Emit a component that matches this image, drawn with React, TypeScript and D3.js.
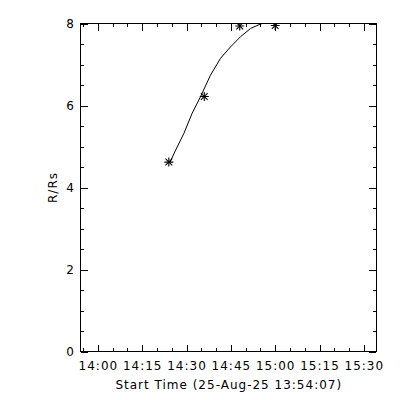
import React from "react";
import * as d3 from "d3";

// Measured heights (R/Rs) at observation times
const obsTimes = ["2025-08-25T14:24:00Z", "2025-08-25T14:36:00Z", "2025-08-25T14:48:00Z", "2025-08-25T15:00:00Z"];
const obsHeights = [4.62, 6.22, 7.94, 7.95];

// Fitted height-time curve
const fitTimes = [
  "2025-08-25T14:24:18Z", "2025-08-25T14:26:18Z", "2025-08-25T14:29:06Z", "2025-08-25T14:31:54Z",
  "2025-08-25T14:34:42Z", "2025-08-25T14:38:06Z", "2025-08-25T14:41:30Z", "2025-08-25T14:44:54Z",
  "2025-08-25T14:48:18Z", "2025-08-25T14:51:42Z", "2025-08-25T14:55:06Z", "2025-08-25T14:58:00Z",
  "2025-08-25T15:00:00Z",
];
const fitHeights = [4.6, 4.91, 5.32, 5.81, 6.21, 6.74, 7.15, 7.43, 7.68, 7.88, 7.99, 8.05, 8.07];

const xStart = "2025-08-25T13:54:07Z";
const xEnd = "2025-08-25T15:34:07Z";
const yTicks = [0, 2, 4, 6, 8];
const xLabel = "Start Time (25-Aug-25 13:54:07)";
const yLabel = "R/Rs";

export default function App() {
  const W = 400, H = 400;
  const left = 80.5, right = 376, top = 23.5, bottom = 351.5;
  const x = d3.scaleUtc().domain([new Date(xStart), new Date(xEnd)]).range([left, right]);
  const y = d3.scaleLinear().domain([0, 8]).range([bottom, top]);
  const majorX = d3.utcMinute.every(15)!.range(new Date(xStart), new Date(xEnd));
  const minorX = d3.utcMinute.every(5)!.range(new Date(xStart), new Date(xEnd));
  const minorY = d3.range(0, 8.01, 0.5);
  const fmt = d3.utcFormat("%H:%M");
  const line = d3.line<[string, number]>()
    .x((d) => x(new Date(d[0])))
    .y((d) => y(d[1]))
    .curve(d3.curveLinear);
  const fitData: [string, number][] = fitTimes.map((t, i) => [t, fitHeights[i]]);
  const font = "'DejaVu Sans', sans-serif";
  const r = 4.5;
  const Ma = 7, Mi = 3.5;
  const ls = 1;
  return (
    <div style={{ position: "absolute", left: 0, top: 0, width: W, height: H, background: "#fff" }}>
      <svg width={W} height={H} style={{ display: "block" }} fontFamily={font}>
        <rect x={0} y={0} width={W} height={H} fill="#fff" />
        <defs>
          <clipPath id="plotclip">
            <rect x={left} y={top} width={right - left} height={bottom - top} />
          </clipPath>
        </defs>
        <g stroke="#000" strokeWidth={1} fill="none" shapeRendering="crispEdges">
          {minorX.map((d, i) => {
            const xx = Math.round(x(d)) + 0.5;
            return (
              <g key={"mx" + i}>
                <line x1={xx} x2={xx} y1={bottom} y2={bottom - Mi} />
                <line x1={xx} x2={xx} y1={top} y2={top + Mi} />
              </g>
            );
          })}
          {majorX.map((d, i) => {
            const xx = Math.round(x(d)) + 0.5;
            return (
              <g key={"Mx" + i}>
                <line x1={xx} x2={xx} y1={bottom} y2={bottom - Ma} />
                <line x1={xx} x2={xx} y1={top} y2={top + Ma} />
              </g>
            );
          })}
          {minorY.map((v, i) => {
            const yy = Math.round(y(v)) + 0.5;
            return (
              <g key={"my" + i}>
                <line x1={left} x2={left + Mi} y1={yy} y2={yy} />
                <line x1={right} x2={right - Mi} y1={yy} y2={yy} />
              </g>
            );
          })}
          {yTicks.map((v, i) => {
            const yy = Math.round(y(v)) + 0.5;
            return (
              <g key={"My" + i}>
                <line x1={left} x2={left + Ma} y1={yy} y2={yy} />
                <line x1={right} x2={right - Ma} y1={yy} y2={yy} />
              </g>
            );
          })}
          <rect x={left} y={top} width={right - left} height={bottom - top} />
        </g>
        <g clipPath="url(#plotclip)">
          <path d={line(fitData) || ""} fill="none" stroke="#000" strokeWidth={1} />
          {obsTimes.map((t, i) => {
            const cx = x(new Date(t));
            const cy = y(obsHeights[i]);
            const d = r * 0.75;
            return (
              <g key={"s" + i} stroke="#000" strokeWidth={1.1}>
                <line x1={cx - r} x2={cx + r} y1={cy} y2={cy} />
                <line x1={cx} x2={cx} y1={cy - r} y2={cy + r} />
                <line x1={cx - d} x2={cx + d} y1={cy - d} y2={cy + d} />
                <line x1={cx - d} x2={cx + d} y1={cy + d} y2={cy - d} />
              </g>
            );
          })}
        </g>
        <g fontSize={12} fill="#000" letterSpacing={ls}>
          {majorX.map((d, i) => (
            <text key={"xl" + i} x={x(d) + ls / 2} y={370} textAnchor="middle">{fmt(d)}</text>
          ))}
          {yTicks.map((v, i) => (
            <text key={"yl" + i} x={75} y={y(v) + 4.5} textAnchor="end">{v}</text>
          ))}
          <text x={(left + right) / 2 + ls / 2} y={389} textAnchor="middle">{xLabel}</text>
          <text transform={`translate(57,${(top + bottom) / 2}) rotate(-90)`} textAnchor="middle">{yLabel}</text>
        </g>
      </svg>
    </div>
  );
}
